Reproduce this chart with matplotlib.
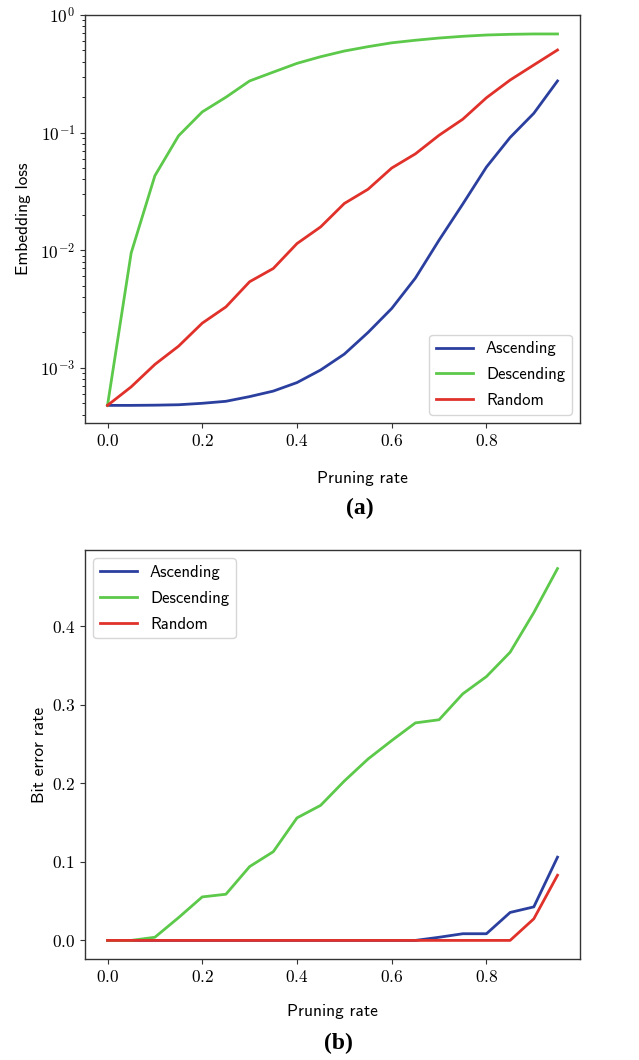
import matplotlib
matplotlib.use("Agg")
import matplotlib.pyplot as plt
import numpy as np

pruning_rate = [0.0, 0.05, 0.1, 0.15, 0.2, 0.25, 0.3, 0.35, 0.4, 0.45,
                0.5, 0.55, 0.6, 0.65, 0.7, 0.75, 0.8, 0.85, 0.9, 0.95]

loss_ascending = [4.8e-4, 4.8e-4, 4.82e-4, 4.86e-4, 5.0e-4, 5.2e-4, 5.7e-4, 6.35e-4, 7.5e-4, 9.6e-4,
                  1.31e-3, 2.0e-3, 3.2e-3, 5.8e-3, 0.0122, 0.0247, 0.051, 0.091, 0.146, 0.275]
loss_descending = [4.8e-4, 0.0095, 0.043, 0.094, 0.15, 0.20, 0.275, 0.327, 0.388, 0.442,
                   0.494, 0.538, 0.58, 0.61, 0.637, 0.659, 0.676, 0.685, 0.69, 0.69]
loss_random = [4.8e-4, 6.9e-4, 1.07e-3, 1.53e-3, 2.4e-3, 3.3e-3, 5.4e-3, 7.0e-3, 0.0114, 0.0158,
               0.025, 0.033, 0.050, 0.066, 0.095, 0.13, 0.198, 0.28, 0.376, 0.504]

ber_ascending = [0.0, 0.0, 0.0, 0.0, 0.0, 0.0, 0.0, 0.0, 0.0, 0.0,
                 0.0, 0.0, 0.0, 0.0, 0.004, 0.0085, 0.0085, 0.0356, 0.0427, 0.106]
ber_descending = [0.0, 0.0, 0.004, 0.029, 0.0554, 0.0588, 0.094, 0.113, 0.156, 0.172,
                  0.203, 0.231, 0.2545, 0.277, 0.281, 0.314, 0.336, 0.367, 0.4175, 0.4735]
ber_random = [0.0, 0.0, 0.0, 0.0, 0.0, 0.0, 0.0, 0.0, 0.0, 0.0,
              0.0, 0.0, 0.0, 0.0, 0.0, 0.0, 0.0, 0.0, 0.0275, 0.083]

series_names = ["Ascending", "Descending", "Random"]
colors = ["#2b3f9f", "#5cc94a", "#e0312a"]

plt.rcParams['font.family'] = ['cmr10']
plt.rcParams['mathtext.fontset'] = 'cm'
plt.rcParams['axes.formatter.use_mathtext'] = True
plt.rcParams['axes.unicode_minus'] = False
plt.rcParams['font.size'] = 12.5

W, H = 639, 1060
fig = plt.figure(figsize=(W / 100, H / 100), dpi=100)

def rect(l, t, r, b):
    return [l / W, 1 - b / H, (r - l) / W, (b - t) / H]

ax1 = fig.add_axes(rect(85, 15, 580, 423))
ax2 = fig.add_axes(rect(85, 550, 580, 959))

sans = 'cmss10'
FS = 12.5
LFS = 12

for ax in (ax1, ax2):
    for s in ax.spines.values():
        s.set_color('#333333')
        s.set_linewidth(1.0)
    ax.tick_params(colors='#333333', labelcolor='black', labelsize=FS)

for name, vals, c in zip(series_names, [loss_ascending, loss_descending, loss_random], colors):
    ax1.plot(pruning_rate, vals, color=c, lw=2.0, label=name)
ax1.set_yscale('log')
ax1.set_ylim(3.4e-4, 1.0)
ax1.set_xticks([0.0, 0.2, 0.4, 0.6, 0.8])
ax1.set_xlabel('Pruning rate', family=sans, fontsize=FS)
ax1.set_ylabel('Embedding loss', family=sans, fontsize=FS)
ax1.xaxis.set_label_coords((362 - 85) / 495, -(471 - 423) / 408)
ax1.yaxis.set_label_coords(-(85 - 31) / 495, 0.5)
leg1 = ax1.legend(loc='lower right', prop={'family': sans, 'size': LFS},
                  handlelength=2.2, labelspacing=0.65)

for name, vals, c in zip(series_names, [ber_ascending, ber_descending, ber_random], colors):
    ax2.plot(pruning_rate, vals, color=c, lw=2.0, label=name)
ax2.set_xticks([0.0, 0.2, 0.4, 0.6, 0.8])
ax2.set_yticks([0.0, 0.1, 0.2, 0.3, 0.4])
ax2.set_xlabel('Pruning rate', family=sans, fontsize=FS)
ax2.set_ylabel('Bit error rate', family=sans, fontsize=FS)
ax2.xaxis.set_label_coords(0.5, -(1004 - 959) / 409)
ax2.yaxis.set_label_coords(-(85 - 47) / 495, 0.5)
leg2 = ax2.legend(loc='upper left', prop={'family': sans, 'size': LFS},
                  handlelength=2.2, labelspacing=0.65)

fig.text(360 / W, 1 - 508 / H, '(a)', family='Liberation Serif', weight='bold',
         fontsize=17, ha='center', va='center')
fig.text(338 / W, 1 - 1043 / H, '(b)', family='Liberation Serif', weight='bold',
         fontsize=17, ha='center', va='center')

fig.savefig('out.png', dpi=100)
